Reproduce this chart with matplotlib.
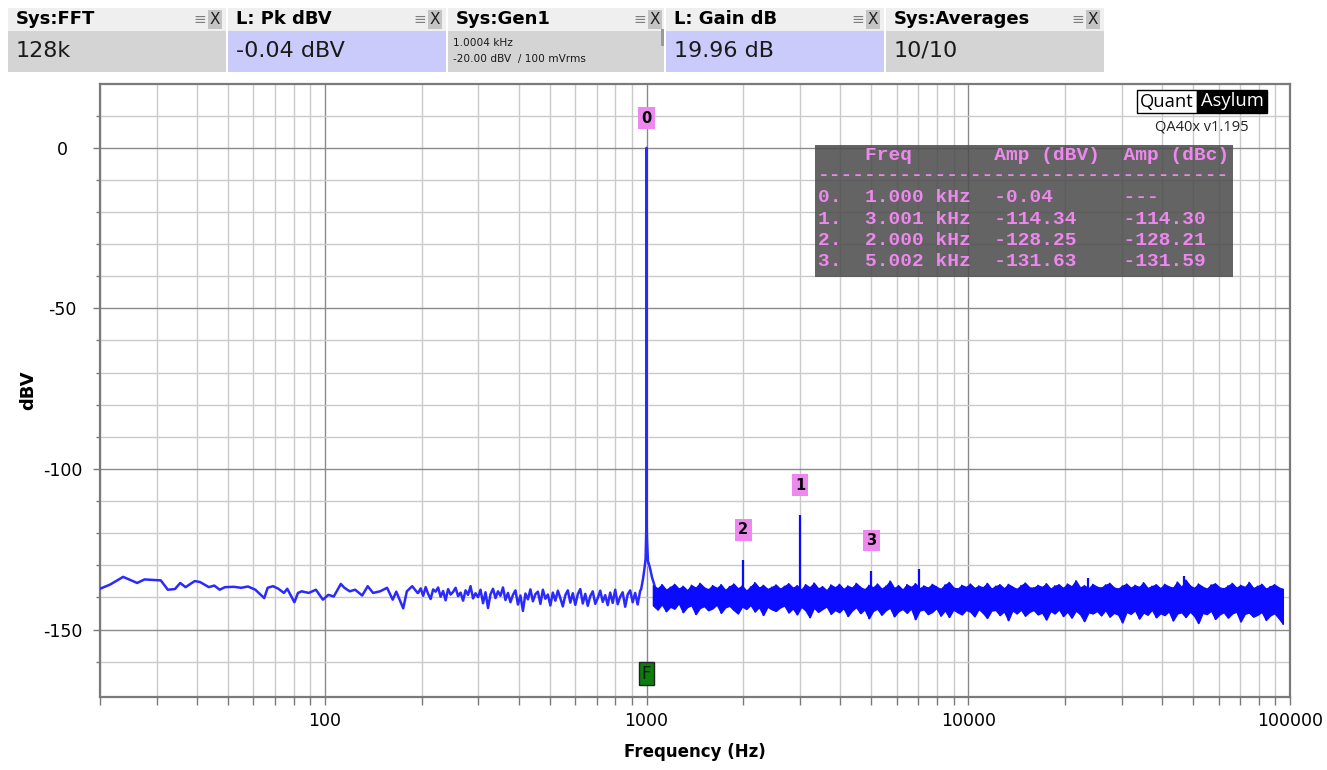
import numpy as np
import matplotlib
matplotlib.use("Agg")
import matplotlib.pyplot as plt
from matplotlib.patches import Rectangle
from matplotlib.ticker import FixedLocator, FixedFormatter, NullFormatter

plt.rcParams['font.family'] = ['DejaVu Sans']

# ---------------- data ----------------
# low-frequency part of the trace (Hz, dBV)
lf_freq = [20.0, 21.5, 23.6, 26.1, 27.5, 30.9, 32.5, 34.2, 35.5, 36.9, 39.4, 40.9,
           43.6, 45.3, 47.1, 48.9, 52.2, 54.9, 57.7, 60.8, 64.8, 66.4, 69.0, 71.7,
           74.6, 76.4, 80.4, 82.5, 84.7, 89.1, 93.8, 98.6, 102.5, 106.6, 112.1, 115.0,
           119.5, 124.2, 130.6, 135.9, 141.2, 148.5, 156.1, 162.5, 166.7, 175.2, 179.8,
           186.8, 194.2]
lf_db = [-137.3, -136.0, -133.6, -135.5, -134.4, -134.7, -137.6, -137.4, -135.5, -136.8,
         -134.9, -135.2, -136.8, -136.3, -137.6, -136.8, -136.7, -137.0, -136.6, -137.6,
         -140.2, -137.0, -136.5, -137.3, -138.6, -137.3, -141.5, -138.6, -138.1, -138.6,
         -137.6, -140.7, -139.2, -139.7, -135.8, -137.0, -138.1, -137.6, -139.4, -136.5,
         -138.6, -138.1, -137.0, -140.7, -138.2, -143.4, -138.1, -136.5, -138.6]

# 195 Hz .. 955 Hz, read left to right
mid_db = [-138.6, -137.2, -139.5, -136.8, -138.9, -140.5, -137.5, -138.2, -136.9, -139.8,
          -138.0, -140.9, -137.4, -139.1, -138.3,
          -137.0, -139.6, -138.5, -141.0, -137.8, -139.2, -136.5, -140.3, -138.7, -139.9,
          -137.6, -141.8, -138.4, -143.3, -139.0,
          -137.3, -140.2, -138.1, -139.5, -136.9, -140.8, -138.6, -141.5, -139.2, -137.8,
          -142.2, -139.4, -144.2, -138.8, -140.6,
          -137.5, -141.2, -139.0, -138.2, -142.0, -137.6, -140.4, -139.1, -142.5, -138.5,
          -141.0, -137.9, -140.2, -142.8, -139.3,
          -137.8, -141.6, -138.7, -142.3, -139.0, -137.4, -141.9, -138.9, -142.6, -139.6,
          -138.1, -142.0, -140.2, -137.9, -141.4,
          -139.3, -142.4, -138.5, -141.7, -137.6, -142.1, -139.8, -138.4, -142.9, -139.1,
          -137.8, -141.5, -138.6, -142.2, -138.0]
mid_range = (195, 955)

# skirt around the fundamental
skirt_freq = [962, 975, 985, 993, 997, 999.6, 1000.0, 1000.4, 1003, 1010, 1024, 1040, 1064]
skirt_db = [-137.4, -134.2, -131.0, -128.0, -121.0, -115.5, -0.04, -115.8, -122.0,
            -128.7, -130.7, -133.8, -137.0]

# dense noise band 1.05 kHz .. 95 kHz: upper and lower edges
band_range = (1050, 95000)
band_hi = [-136.4, -137.2, -136.0, -137.6, -136.8, -135.9, -137.3, -136.5, -137.8, -136.2,
           -137.0, -135.6, -136.9, -137.5, -136.3,
           -137.1, -136.0, -137.7, -136.6, -135.8, -137.2, -136.4, -137.9, -136.7, -135.4,
           -137.0, -136.2, -137.4, -136.8, -136.1,
           -137.3, -136.5, -135.7, -137.0, -136.3, -137.6, -136.0, -136.9, -135.5, -137.2,
           -136.6, -137.8, -136.1, -136.9, -135.9,
           -137.4, -136.4, -137.0, -135.6, -136.8, -137.5, -136.2, -136.9, -135.8, -137.3,
           -136.5, -134.9, -137.1, -136.3, -137.6,
           -136.0, -136.8, -135.7, -137.2, -136.4, -137.0, -135.9, -136.7, -137.4, -136.1,
           -135.3, -136.9, -137.3, -136.2, -136.8,
           -135.8, -137.1, -136.4, -136.9, -135.6, -137.3, -136.5, -136.0, -137.2, -135.9,
           -136.7, -137.4, -136.3, -135.5, -136.9,
           -137.0, -136.2, -136.8, -135.7, -137.3, -136.4, -136.0, -137.1, -135.8, -136.6,
           -134.8, -136.9, -136.3, -137.2, -135.9,
           -136.7, -137.0, -136.1, -135.6, -136.9, -137.3, -136.4, -135.8, -137.0, -136.2,
           -136.8, -135.4, -137.1, -136.5, -136.0,
           -137.2, -135.9, -136.6, -137.0, -135.2, -136.8, -134.6, -136.3, -137.1, -135.8,
           -136.7, -137.3, -136.1, -135.7, -136.9,
           -137.2, -136.4, -135.6, -137.0, -136.2, -136.8, -135.3, -137.1, -136.5, -135.9,
           -137.3, -136.6, -136.0, -136.9, -137.4]
band_lo = [-142.6, -143.8, -142.1, -144.3, -142.9, -143.5, -141.8, -144.6, -143.0, -142.4,
           -145.2, -143.3, -142.7, -144.0, -143.4,
           -142.2, -144.8, -143.1, -142.6, -143.9, -145.0, -142.8, -143.6, -142.3, -144.4,
           -143.0, -145.5, -142.9, -143.7, -144.2,
           -143.1, -142.5, -144.7, -143.4, -145.3, -142.9, -144.0, -146.2, -143.2, -144.5,
           -143.6, -142.8, -145.1, -143.9, -144.6,
           -143.3, -145.8, -144.1, -143.0, -144.9, -143.7, -146.5, -144.2, -143.5, -145.4,
           -144.0, -143.2, -145.9, -144.3, -143.6,
           -144.8, -143.4, -146.8, -144.1, -143.7, -145.2, -144.5, -143.3, -145.7, -144.0,
           -146.1, -143.8, -144.6, -145.3, -143.9,
           -144.4, -145.9, -143.6, -144.8, -146.4, -144.1, -143.9, -145.5, -144.3, -147.1,
           -144.0, -145.0, -143.8, -145.7, -144.5,
           -143.9, -145.3, -144.7, -146.9, -144.2, -145.0, -143.7, -145.8, -144.4, -146.3,
           -144.1, -145.2, -147.4, -144.6, -145.0,
           -144.2, -145.6, -143.9, -146.0, -144.8, -145.3, -147.8, -144.5, -145.1, -144.0,
           -146.6, -144.7, -145.4, -143.8, -146.2,
           -144.9, -145.5, -144.3, -147.2, -145.0, -144.6, -146.1, -144.4, -145.7, -148.0,
           -144.8, -145.2, -144.1, -146.7, -145.3,
           -144.6, -146.3, -145.0, -144.4, -147.5, -145.1, -144.7, -146.0, -145.4, -144.5,
           -147.0, -145.6, -144.9, -146.4, -148.2]

# narrow spurs / harmonics standing out of the noise
spike_freq = [2000, 3001, 5002, 7003, 23600, 46700]
spike_db = [-128.25, -114.34, -131.63, -131.2, -134.0, -133.2]

# marked peaks (table)
peak_labels = ['0', '1', '2', '3']
peak_freq = [1000, 3001, 2000, 5002]
peak_db = [-0.04, -114.34, -128.25, -131.63]
peak_dbc = [None, -114.30, -128.21, -131.59]

# header tiles
tile_titles = ['Sys:FFT', 'L: Pk dBV', 'Sys:Gen1', 'L: Gain dB', 'Sys:Averages']
tile_values = ['128k', '-0.04 dBV', None, '19.96 dB', '10/10']
gen_lines = ['1.0004 kHz', '-20.00 dBV  / 100 mVrms']

x_major = [100, 1000, 10000, 100000]
x_major_labels = ['100', '1000', '10000', '100000']
y_major = [0, -50, -100, -150]
y_major_labels = ['0', '-50', '-100', '-150']

# ---------------- figure ----------------
W, H = 1327, 770
fig = plt.figure(figsize=(W / 100, H / 100), dpi=100)
fig.patch.set_facecolor('white')


def fx(px):
    return px / W


def fy(py):
    return 1 - py / H


def prect(x0, y0, x1, y1, **kw):
    r = Rectangle((fx(x0), fy(y1)), fx(x1) - fx(x0), fy(y0) - fy(y1),
                  transform=fig.transFigure, **kw)
    fig.add_artist(r)
    return r


def ptext(x, y, s, **kw):
    return fig.text(fx(x), fy(y), s, **kw)


ax = fig.add_axes([fx(100), fy(697), fx(1290) - fx(100), fy(83.5) - fy(697)])
ax.set_xscale('log')
ax.set_xlim(20, 100000)
ax.set_ylim(-171, 20)

# ticks / grid
x_minor = [m * d for d in (10, 100, 1000, 10000) for m in range(2, 10) if m * d >= 20]
ax.xaxis.set_major_locator(FixedLocator(x_major))
ax.xaxis.set_major_formatter(FixedFormatter(x_major_labels))
ax.xaxis.set_minor_locator(FixedLocator(x_minor))
ax.xaxis.set_minor_formatter(NullFormatter())
y_minor = [v for v in range(-160, 20, 10) if v not in y_major]
ax.yaxis.set_major_locator(FixedLocator(y_major))
ax.yaxis.set_major_formatter(FixedFormatter(y_major_labels))
ax.yaxis.set_minor_locator(FixedLocator(y_minor))

ax.grid(which='major', color='#8a8a8a', lw=1.0)
ax.grid(which='minor', color='#cacaca', lw=1.0)
ax.set_axisbelow(True)
for sp in ax.spines.values():
    sp.set_color('#7a7a7a')
    sp.set_linewidth(1.6)

ax.tick_params(axis='x', which='both', direction='out', length=6, width=1,
               color='#7a7a7a', labelsize=12.5, pad=5)
ax.tick_params(axis='y', which='major', direction='out', length=5, width=1,
               color='#7a7a7a', labelsize=12.5, pad=22)
ax.tick_params(axis='y', which='minor', direction='out', length=3, width=1,
               color='#7a7a7a')
for lbl in ax.get_yticklabels():
    lbl.set_horizontalalignment('center')

trace_color = '#2a2aff'

mid_freq = np.geomspace(mid_range[0], mid_range[1], len(mid_db))
line_f = list(lf_freq) + list(mid_freq) + list(skirt_freq)
line_db = list(lf_db) + list(mid_db) + list(skirt_db)
ax.plot(line_f, line_db, color=trace_color, lw=1.8, zorder=3)

band_freq = np.geomspace(band_range[0], band_range[1], len(band_hi))
ax.fill_between(band_freq, band_lo, band_hi, color='#0a0aff', ec='#0a0aff',
                lw=1.0, zorder=3)
# bin-to-bin strokes across the band (same edge values, drawn top/bottom in turn)
zig_f = np.repeat(band_freq, 2)
zig_db = np.column_stack([band_hi, band_lo]).ravel()
ax.plot(zig_f, zig_db, color='#0a0aff', lw=1.0, zorder=3)
ax.vlines(spike_freq, -139, spike_db, color='#0a0aff', lw=1.6, zorder=3)

# peak markers
for lab, f, d in zip(peak_labels, peak_freq, peak_db):
    ax.annotate(lab, xy=(f, d), xytext=(0, 21.5), textcoords='offset points',
                ha='center', va='center', fontsize=10.5, fontweight='bold',
                color='black', zorder=6,
                bbox=dict(boxstyle='square,pad=0.22', fc='#ee88ee', ec='none'))

ax.text(1000, -163.7, 'F', ha='center', va='center', fontsize=12, color='#0a200a',
        zorder=6, bbox=dict(boxstyle='square,pad=0.15', fc='#0d7d0d', ec='#222222', lw=1))

# axis labels
ptext(28, 390, 'dBV', rotation=90, ha='center', va='center', fontsize=13,
      fontweight='bold')
ptext(695, 752, 'Frequency (Hz)', ha='center', va='center', fontsize=12,
      fontweight='bold')

# ---------------- header tiles ----------------
tile_left = [8, 228, 448, 666, 886]
tile_width = [218, 218, 216, 218, 218]
tile_color = ['#d4d4d4', '#cbcbfb', '#d4d4d4', '#cbcbfb', '#d4d4d4']
for i, title in enumerate(tile_titles):
    L = tile_left[i]
    R = L + tile_width[i]
    prect(L, 8, R, 31, fc='#efefef', ec='none')
    prect(L, 31, R, 72, fc=tile_color[i], ec='none')
    ptext(L + 8, 19.5, title, fontsize=13, fontweight='bold', va='center', ha='left')
    ptext(L + 192, 19.5, '\u2261', fontsize=11, color='#7d7d7d', va='center', ha='center')
    ptext(L + 207, 19.5, 'X', fontsize=11, color='#202020', va='center', ha='center',
          bbox=dict(boxstyle='square,pad=0.12', fc='#c4c4c4', ec='none'))
    if tile_values[i] is not None:
        ptext(L + 8, 51, tile_values[i], fontsize=16, va='center', ha='left',
              color='#1a1a1a')
    else:
        ptext(L + 5, 43, gen_lines[0], fontsize=7.6, va='center', ha='left',
              color='#1a1a1a')
        ptext(L + 5, 59, gen_lines[1], fontsize=7.6, va='center', ha='left',
              color='#1a1a1a')
prect(661, 29, 664, 46, fc='#9a9a9a', ec='none')

# ---------------- logo ----------------
prect(1137, 90, 1197, 113, fc='white', ec='black', lw=1.0, zorder=6)
prect(1197, 90, 1267, 113, fc='black', ec='black', lw=1.0, zorder=6)
ptext(1167, 101.5, 'Quant', fontsize=13.2, family='Open Sans', ha='center',
      va='center', color='black', zorder=7)
ptext(1232, 101.5, 'Asylum', fontsize=13.2, family='Open Sans', ha='center',
      va='center', color='white', zorder=7)
ptext(1202, 127, 'QA40x v1.195', fontsize=10.5, family='Open Sans', ha='center',
      va='center', color='#222222', zorder=7)

# ---------------- peak table ----------------
prect(815, 145, 1233, 277, fc='#4e4e4e', ec='none', alpha=0.88, zorder=5)
tcol = '#ee88ee'
tkw = dict(family='Liberation Mono', fontweight='bold', fontsize=14, color=tcol,
           va='center', ha='left', zorder=7)
ptext(818, 156, '    Freq       Amp (dBV)  Amp (dBc)', **tkw)
ptext(818, 175, '-' * 35, **tkw)
row_y = [197.5, 219, 240.5, 261.5]
for i in range(len(peak_freq)):
    amp = f'{peak_db[i]:.2f}'
    dbc = '---' if peak_dbc[i] is None else f'{peak_dbc[i]:.2f}'
    s = f'{i}.  {peak_freq[i] / 1000:.3f} kHz  {amp:<11s}{dbc}'
    ptext(818, row_y[i], s, **tkw)

fig.savefig('out.png', dpi=100, facecolor='white')
